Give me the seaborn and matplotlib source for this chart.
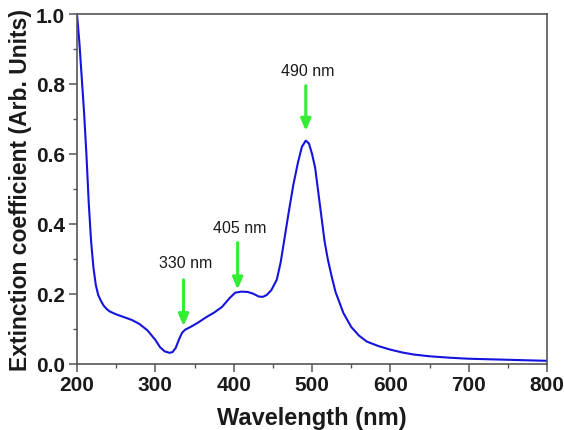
import numpy as np
import pandas as pd
import matplotlib
matplotlib.use("Agg")
import matplotlib.pyplot as plt
import seaborn as sns

# --------------------------
# Data
# --------------------------
wavelength = [200, 203, 206, 209, 212, 215, 218, 221, 224, 227, 230, 234, 238, 242,
              250, 260, 270, 280, 290, 300, 306, 312, 318, 322, 326, 330, 334, 338,
              345, 355, 365, 375, 385, 395, 402, 410, 418, 425, 432, 437, 442, 448,
              455, 460, 465, 470, 476, 482, 487, 492, 496, 500, 504, 508, 512, 516,
              520, 525, 530, 540, 550, 560, 570, 585, 600, 615, 630, 650, 675, 700,
              750, 800]
extinction = [1.0, 0.92, 0.82, 0.72, 0.60, 0.46, 0.35, 0.275, 0.225, 0.197, 0.182, 0.166, 0.156, 0.149,
              0.141, 0.133, 0.125, 0.113, 0.095, 0.068, 0.047, 0.035, 0.031, 0.033, 0.045, 0.068, 0.088, 0.097,
              0.105, 0.118, 0.133, 0.146, 0.162, 0.188, 0.203, 0.206, 0.205, 0.200, 0.192, 0.191, 0.196, 0.210,
              0.240, 0.290, 0.360, 0.430, 0.510, 0.575, 0.620, 0.638, 0.630, 0.600, 0.560, 0.490, 0.420, 0.350,
              0.300, 0.250, 0.205, 0.145, 0.105, 0.080, 0.063, 0.050, 0.040, 0.032, 0.026, 0.021, 0.017, 0.014,
              0.011, 0.008]

peak_labels = ["330 nm", "405 nm", "490 nm"]
peak_x = [336, 405, 492]
arrow_tip_y = [0.107, 0.212, 0.666]
arrow_top_y = [0.24, 0.346, 0.795]
label_y = [0.288, 0.39, 0.838]

df = pd.DataFrame({"Wavelength": wavelength, "Extinction": extinction})

# --------------------------
# Plot
# --------------------------
sns.set_style("ticks")
plt.rcParams['font.family'] = ['Liberation Sans', 'DejaVu Sans']

fig = plt.figure(figsize=(5.64, 4.31), dpi=100)
ax = fig.add_axes([0.1365, 0.154, 0.8335, 0.811])

sns.lineplot(data=df, x="Wavelength", y="Extinction", ax=ax, color="#1414dc", linewidth=1.5)

for lab, xx, tip, top, ly in zip(peak_labels, peak_x, arrow_tip_y, arrow_top_y, label_y):
    ax.annotate("", xy=(xx, tip), xytext=(xx, top),
                arrowprops=dict(arrowstyle="-|>,head_length=0.7,head_width=0.3",
                                color="#33ee33", lw=2.2, shrinkA=0, shrinkB=0))
    ax.text(xx + 3, ly, lab, ha="center", va="center", fontsize=11.5, color="#1a1a1a")

ax.set_xlim(200, 800)
ax.set_ylim(0, 1.0)
ax.set_xticks(np.arange(200, 801, 100))
ax.set_xticks(np.arange(250, 800, 100), minor=True)
ax.set_yticks(np.arange(0, 1.01, 0.2))
ax.set_yticks(np.arange(0.1, 1.0, 0.2), minor=True)
ax.set_yticklabels([f"{v:.1f}" for v in np.arange(0, 1.01, 0.2)])

ax.set_xlabel("Wavelength (nm)", fontsize=17, fontweight="bold", labelpad=8, color="#1a1a1a")
ax.set_ylabel("Extinction coefficient (Arb. Units)", fontsize=16.5, fontweight="bold", labelpad=3,
              color="#1a1a1a")

for side in ["top", "right", "left", "bottom"]:
    ax.spines[side].set_visible(True)
    ax.spines[side].set_color("#555555")
    ax.spines[side].set_linewidth(1.2)

ax.tick_params(axis="both", which="major", direction="out", length=5.5, width=1.1,
               color="#555555", labelcolor="#1a1a1a", labelsize=15, pad=3)
ax.tick_params(axis="both", which="minor", direction="out", length=3.2, width=1.0, color="#555555")
for t in ax.get_xticklabels() + ax.get_yticklabels():
    t.set_fontweight("bold")

fig.savefig("out.png", dpi=100)
